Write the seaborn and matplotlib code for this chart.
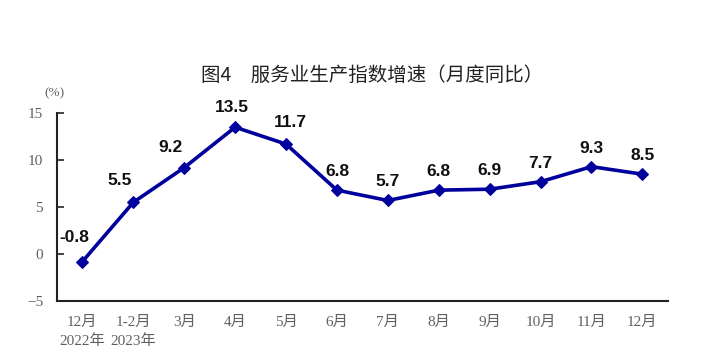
import matplotlib.pyplot as plt
import seaborn as sns
import pandas as pd
import numpy as np

# 数据
months = ['12月\n2022年', '1-2月\n2023年', '3月', '4月', '5月', '6月',
          '7月', '8月', '9月', '10月', '11月', '12月']
growth = [-0.8, 5.5, 9.2, 13.5, 11.7, 6.8, 5.7, 6.8, 6.9, 7.7, 9.3, 8.5]
y_ticks = [-5, 0, 5, 10, 15]

sns.set_theme(style='white')
plt.rcParams['font.family'] = ['Noto Sans CJK SC', 'DejaVu Sans']
plt.rcParams['axes.unicode_minus'] = True

df = pd.DataFrame({'pos': np.arange(len(months)), 'value': growth})

fig = plt.figure(figsize=(7.03, 3.62), dpi=100)
ax = fig.add_axes([0.081, 0.1685, 0.869, 0.519])

sns.lineplot(data=df, x='pos', y='value', ax=ax, color='#00009c',
             linewidth=2.6, marker='D', markersize=6.5,
             markeredgecolor='#00009c')

# 数据标签
label_offsets = {0: (-6, 12), 1: (-10, 10), 2: (-10, 9), 3: (-2, 9), 4: (3, 10)}
for i, v in enumerate(growth):
    dx, dy = label_offsets.get(i, (0, 8))
    ax.annotate(f'{v:.1f}', (i, v), xytext=(dx, dy), textcoords='offset points',
                ha='center', va='bottom', fontsize=12.5, fontweight='bold',
                color='#111111', family=['Liberation Sans', 'DejaVu Sans'])

ax.set_xlim(-0.45, len(months) - 0.55)
ax.set_ylim(-5, 15)
ax.set_xlabel('')
ax.set_ylabel('')

serif = ['Liberation Serif', 'Noto Sans CJK SC']
ax.set_yticks(y_ticks)
ax.set_yticklabels([str(t) if t >= 0 else '\u2212' + str(-t) for t in y_ticks],
                   family=serif, fontsize=11, color='#606060')
ax.set_xticks(np.arange(len(months) + 1) - 0.5)
ax.set_xticklabels([])
ax.set_xticks(np.arange(len(months)), minor=True)
ax.set_xticklabels(months, minor=True, family=serif, fontsize=11,
                   color='#606060', linespacing=1.45)
ax.tick_params(axis='x', which='major', direction='in', length=5, width=1.2,
               color='#222222')
ax.tick_params(axis='x', which='minor', length=0, pad=11)
ax.tick_params(axis='y', direction='in', length=5, width=1.2, color='#222222',
               pad=10, left=True)

for side in ['top', 'right']:
    ax.spines[side].set_visible(False)
for side in ['left', 'bottom']:
    ax.spines[side].set_color('#222222')
    ax.spines[side].set_linewidth(1.5)

fig.text(0.078, 0.733, '(%)', ha='center', fontsize=9.5, color='#606060',
         family=serif)
fig.text(0.53, 0.775, '图4\u3000服务业生产指数增速（月度同比）', ha='center',
         fontsize=14, color='#222222')

fig.savefig('out.png', dpi=100, facecolor='white')
